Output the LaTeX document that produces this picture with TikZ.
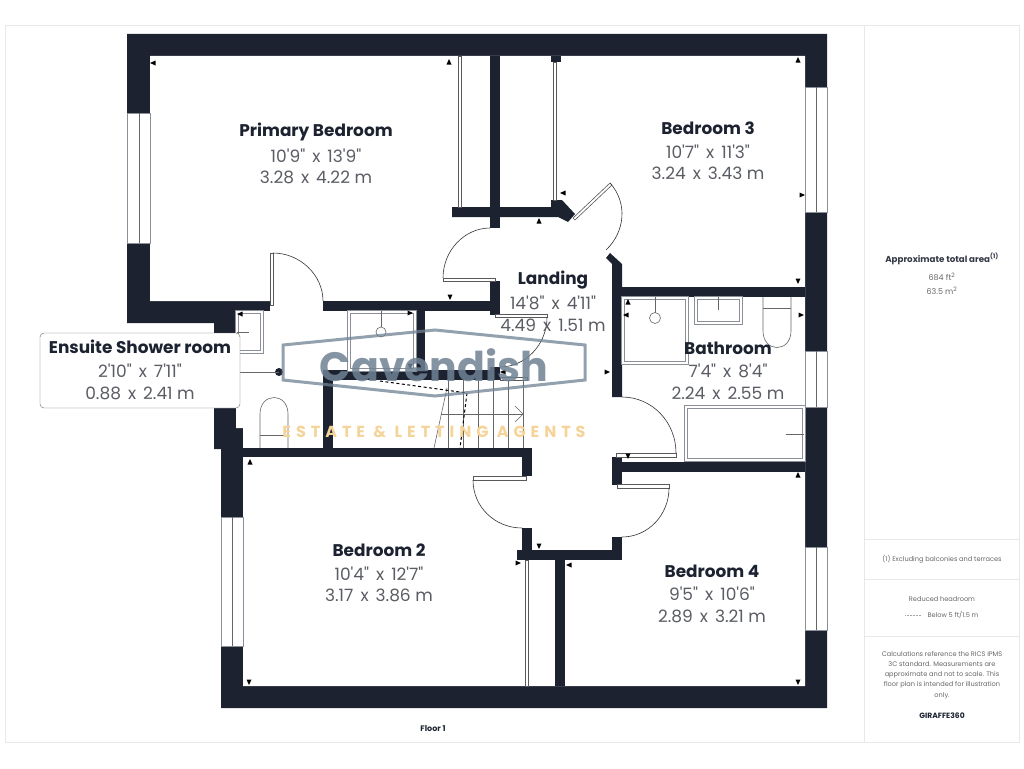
\documentclass[tikz,border=0pt]{standalone}
\usepackage{fontspec}
\newfontfamily\planfont{Poppins}
\newfontfamily\gapfont[LetterSpace=31]{Poppins}
\newcommand{\dimby}{\ \kern2.5pt x\ \kern2.5pt}
\usetikzlibrary{positioning}
\definecolor{wallnavy}{HTML}{1C2230}
\definecolor{fixgrey}{HTML}{8A8F98}
\definecolor{sizegrey}{HTML}{5A5D63}
\definecolor{framegrey}{HTML}{E8E8E8}
\definecolor{logoblue}{HTML}{6F8294}
\definecolor{logogold}{HTML}{F5D49A}
\tikzset{wall/.style={
    % The filling:
    fill=wallnavy,
    draw=none,
    },
    glazing/.style={
    fill=white,
    draw=fixgrey,
    line width=0.6pt,
    },
    fixture/.style={
    draw=fixgrey,
    line width=1.6pt,
    double=white,
    double distance=1.6pt,
    },
    fixline/.style={
    draw=black!60,
    line width=0.6pt,
    },
    doorleaf/.style={
    fill=white,
    draw=black!65,
    line width=0.6pt,
    },
    doorswing/.style={
    draw=black!80,
    line width=0.6pt,
    },
    roomname/.style={
    font=\planfont\bfseries\fontsize{16.9}{19}\selectfont,
    text=wallnavy,
    inner sep=0pt,
    },
    roomsize/.style={
    font=\planfont\fontsize{17}{19}\selectfont,
    text=sizegrey,
    inner sep=0pt,
    },
    paneltext/.style={
    font=\planfont\fontsize{6.6}{10.2}\selectfont,
    text=black!60,
    inner sep=0pt,
    align=center,
    },
}

\begin{document}
\begin{tikzpicture}[x=1pt,y=-1pt]
    \useasboundingbox (0,0) rectangle (1024,768);
    % page frame and side panel
    \draw[framegrey] (5,25) rectangle (1019,742);
    \draw[framegrey] (864,25) -- (864,742);
    \foreach \liney in {539,579,636}
        \draw[framegrey] (864,\liney) -- (1019,\liney);

    % outer walls
    \fill[wall] (127,34) -- (827,34) -- (827,708) -- (221,708) -- (221,449) -- (214,449) -- (214,323)
        -- (127,323) -- cycle;
    \fill[white] (150,56) -- (805,56) -- (805,686) -- (243,686) -- (243,428)
        -- (236,428) -- (236,411) -- (236,333) -- (237,333) -- (237,311) -- (270,311) -- (270,301) -- (150,301) -- cycle;

    % inner walls
    \fill[wall] (323,301) rectangle (490,311);
    \fill[wall] (490,281) rectangle (500,315);
    \fill[wall] (415,311) rectangle (425,370);
    \fill[wall] (323,370) rectangle (500,380);
    \fill[wall] (490,367) rectangle (500,380);
    \fill[wall] (323,370) rectangle (333,448);
    \fill[wall] (243,448) rectangle (532,457);
    \fill[wall] (522,448) rectangle (532,476);
    \fill[wall] (490,56) rectangle (500,228);
    \fill[wall] (551,56) rectangle (561,62);
    \fill[wall] (452,207) -- (551,207) -- (551,200) -- (562,200) -- (575,214) -- (568,222) -- (558,217) -- (452,217) -- cycle;
    \fill[wall] (606,258) -- (610,253) -- (622,264) -- (622,397) -- (612,397) -- (612,264) -- cycle;
    \fill[wall] (612,287) rectangle (805,297);
    \fill[wall] (612,457) rectangle (622,485);
    \fill[wall] (622,462) rectangle (805,472);
    \fill[wall] (517,550) rectangle (622,560);
    \fill[wall] (522,528) rectangle (532,550);
    \fill[wall] (612,537) rectangle (622,560);
    \fill[wall] (555,560) rectangle (565,686);

    % windows
    \foreach \wxa/\wya/\wxb/\wyb in {127/113/150/243, 805/87/827/212, 805/351/827/407, 805/547/827/630, 221/517/243/646} {
        \draw[glazing] (\wxa,\wya) rectangle (\wxb,\wyb);
    }
    \draw[fixline] (139,113) -- (139,243);
    \draw[fixline] (816,87) -- (816,212);
    \draw[fixline] (816,351) -- (816,407);
    \draw[fixline] (816,547) -- (816,630);
    \draw[fixline] (232,517) -- (232,646);

    % wardrobe rails
    \draw[doorleaf] (458,56) rectangle (461,207);
    \draw[doorleaf] (553,62) rectangle (556,200);
    \draw[doorleaf] (525,560) rectangle (528,686);

    % doors
    \draw[doorleaf] (573,218) -- (610,183) -- (612,185) -- (575,220) -- cycle;
    \draw[doorswing] (610,183) .. controls (628,203) and (625,232) .. (606,250);
    \draw[doorleaf] (443,278) rectangle (495,281);
    \draw[doorswing] (443,278) .. controls (443,250) and (465,228) .. (490,228);
    \draw[doorleaf] (270,253) rectangle (273,305);
    \draw[doorswing] (273,253) .. controls (300,253) and (323,275) .. (323,301);
    \draw[doorleaf] (495,314) rectangle (547,317);
    \draw[doorswing] (547,317) .. controls (547,345) and (525,367) .. (500,367);
    \draw[doorleaf] (616,453) rectangle (676,457);
    \draw[doorswing] (676,453) .. controls (676,422) and (652,397) .. (622,397);
    \draw[doorleaf] (473,476) rectangle (526,480);
    \draw[doorswing] (473,480) .. controls (473,507) and (495,528) .. (522,528);
    \draw[doorleaf] (617,484) rectangle (669,488);
    \draw[doorswing] (669,488) .. controls (669,515) and (648,537) .. (622,537);

    % stairs
    \draw[doorleaf] (500,377) rectangle (527,380);
    \foreach \treadx in {448,463,478,493,508,523}
        \draw[fixline] (\treadx,380) -- (\treadx,448);
    \draw[fixline] (447,388) -- (434,448);
    \draw[fixline] (441,414) -- (523,414);
    \draw[fixline] (515,406) -- (523,414) -- (515,422);
    \draw[black,line width=1pt,dash pattern=on 3pt off 2.5pt] (380,381) -- (467,393) -- (460,448);

    % bathroom fittings
    \draw[fixture] (349,312) rectangle (415,370);
    \draw[fixline] (381,311) -- (381,327);
    \draw[fixline] (381,332) circle[radius=5];
    \draw[fixture] (623,298) rectangle (687,363);
    \draw[fixline] (655,297) -- (655,313);
    \draw[fixline] (655,318) circle[radius=5.5];
    \draw[fixture] (696,298) rectangle (741,323);
    \draw[fixline] (718,297) -- (718,310);
    \draw[fixture] (686,407) rectangle (804,460);
    \draw[fixline] (786,434) -- (804,434);
    \draw[fixline] (763,297) -- (763,331) .. controls (763,353) and (791,353) .. (791,331) -- (791,297);
    \draw[fixline] (763,308) -- (791,308);
    \draw[fixture] (237,312) rectangle (262,352);
    \draw[fixline] (237,332) -- (249,332);
    \draw[fixline] (260,448) -- (260,414) .. controls (260,392) and (288,392) .. (288,414) -- (288,448);
    \draw[fixline] (260,435) -- (288,435);

    % dimension ticks
    \foreach \tipx/\tipy/\tipr in {153/63/180, 449/62/90, 563/193/180, 539/221/90, 450/297/270,
        798/60/90, 802/195/0, 798/281/270, 240/314/180, 410/313/0, 410/366/270, 503/372/180,
        607/372/0, 250/462/90, 249/682/270, 569/565/180, 539/546/270, 518/563/0, 628/456/270,
        628/302/90, 626/315/180, 801/315/0, 798/475/90, 798/682/270}
        \fill[black,shift={(\tipx,\tipy)},rotate=\tipr] (3,0) -- (-2.5,-2.5) -- (-2.5,2.5) -- cycle;

    % room labels
    \node (primary)   [roomname] at (316,132) {Primary Bedroom};
    \node (primarya)  [roomsize] at (316,156) {10'9"\dimby 13'9"};
    \node (primaryb)  [roomsize] at (316,177) {3.28\dimby 4.22 m};
    \node (bedthree)  [roomname] at (708,128) {Bedroom 3};
    \node (bedthreea) [roomsize] at (708,152) {10'7"\dimby 11'3"};
    \node (bedthreeb) [roomsize] at (708,173) {3.24\dimby 3.43 m};
    \node (landing)   [roomname] at (553,280) {Landing};
    \node (landinga)  [roomsize] at (553,303) {14'8"\dimby 4'11"};
    \node (landingb)  [roomsize] at (553,325) {4.49\dimby 1.51 m};
    \node (bathroom)  [roomname] at (728,348) {Bathroom};
    \node (bathrooma) [roomsize] at (728,371) {7'4"\dimby 8'4"};
    \node (bathroomb) [roomsize] at (728,393) {2.24\dimby 2.55 m};
    \node (bedtwo)    [roomname] at (379,550) {Bedroom 2};
    \node (bedtwoa)   [roomsize] at (379,574) {10'4"\dimby 12'7"};
    \node (bedtwob)   [roomsize] at (379,595) {3.17\dimby 3.86 m};
    \node (bedfour)   [roomname] at (712,571) {Bedroom 4};
    \node (bedfoura)  [roomsize] at (712,594) {9'5"\dimby 10'6"};
    \node (bedfourb)  [roomsize] at (712,616) {2.89\dimby 3.21 m};

    % ensuite callout
    \coordinate (callout) at (240,372);
    \fill[wallnavy] (279,372) circle[radius=4];
    \draw[fixline] (callout) -- (279,372);
    \draw[black!60,fill=white,rounded corners=4pt] (40,333) rectangle (240,408);
    \node (ensuite)   [roomname] at (140,347) {Ensuite Shower room};
    \node (ensuitea)  [roomsize] at (140,371) {2'10"\dimby 7'11"};
    \node (ensuiteb)  [roomsize] at (140,393) {0.88\dimby 2.41 m};

    % watermark
    \draw[logoblue,line width=3pt,opacity=0.75] (283,345) -- (435,330) -- (585,345) -- (585,380) -- (435,396) -- (283,380) -- cycle;
    \node (logoname) [font=\planfont\bfseries\fontsize{41}{44}\selectfont,text=logoblue,opacity=0.85,inner sep=0pt] at (434,365) {Cavendish};
    \node (logotag)  [font=\gapfont\bfseries\fontsize{16}{18}\selectfont,text=logogold,inner sep=0pt] at (434,432) {ESTATE \& LETTING AGENTS};

    % floor caption and side panel
    \node (floor) [paneltext,font=\planfont\bfseries\fontsize{8}{9}\selectfont,text=wallnavy] at (433,729) {Floor 1};
    \node (area)  [paneltext,font=\planfont\bfseries\fontsize{8.7}{10}\selectfont,text=wallnavy!90] at (942,259) {Approximate total area\textsuperscript{(1)}};
    \node (areaa) [paneltext,font=\planfont\fontsize{8}{10}\selectfont] at (942,277) {684 ft\textsuperscript{2}};
    \node (areab) [paneltext,font=\planfont\fontsize{8}{10}\selectfont] at (942,291) {63.5 m\textsuperscript{2}};
    \node (note)  [paneltext] at (942,559) {(1) Excluding balconies and terraces};
    \node (head)  [paneltext] at (942,599) {Reduced headroom};
    \node (below) [paneltext] at (953,615) {Below 5 ft/1.5 m};
    \coordinate (headl) at (905,615);
    \coordinate (headr) at (921,615);
    \draw[black!35,densely dotted,line width=0.5pt] (headl) -- (headr);
    \node (calc)  [paneltext] at (942,675) {Calculations reference the RICS IPMS\\3C standard. Measurements are\\approximate and not to scale. This\\floor plan is intended for illustration\\only.};
    \node (brand) [paneltext,font=\planfont\bfseries\fontsize{7.6}{9}\selectfont,text=wallnavy] at (942,716) {GIRAFFE360};
\end{tikzpicture}
\end{document}
